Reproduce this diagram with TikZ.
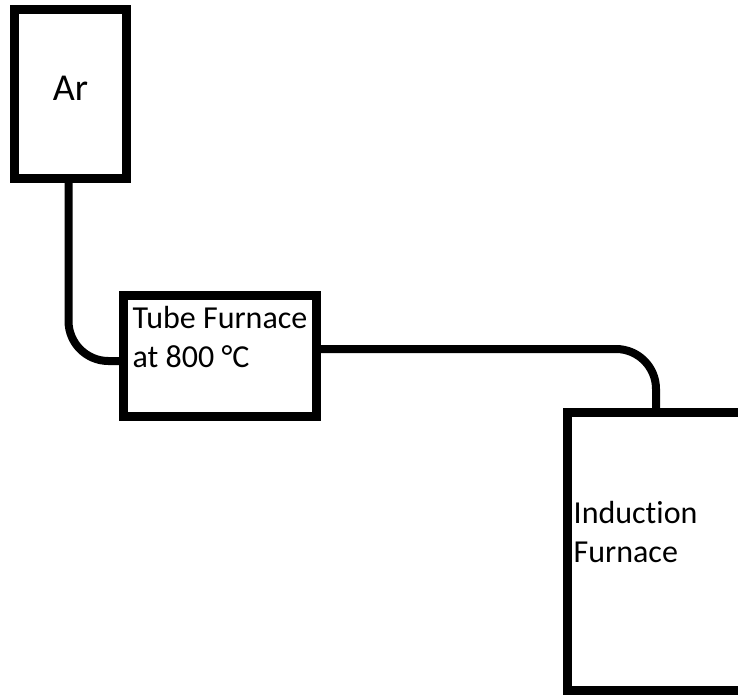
\documentclass[tikz,border=0pt]{standalone}
\usepackage{fontspec}
\setmainfont[Ligatures=NoCommon]{Carlito}
\usetikzlibrary{positioning,calc}

\begin{document}
\begin{tikzpicture}[
    x=1pt, y=-1pt,
    box/.style={draw, line width=9pt, inner sep=0pt, outer sep=0pt},
    pipe/.style={draw, line width=8pt, rounded corners=40pt},
    txt/.style={inner sep=0pt, align=left, font=\fontsize{32}{39}\selectfont}
  ]
    \clip (0,0) rectangle (738,694);
    \node[box, minimum width=112pt, minimum height=168.5pt] (ar) at (70.5,94) {};
    \node[box, minimum width=193pt, minimum height=121pt] (tube) at (220,356) {};
    \node[box, minimum width=200pt, minimum height=278pt] (ind) at (667.5,551) {};

    \node[inner sep=0pt, anchor=base, font=\fontsize{38}{44}\selectfont] (artext) at ([yshift=-6pt]ar.center) {Ar};
    \node[txt, anchor=north west] (tubetext) at ([shift={(9pt,-10.5pt)}]tube.north west) {Tube Furnace\\at 800 °C};
    \node[txt, anchor=north west] (indtext) at ([shift={(6pt,-89pt)}]ind.north west) {Induction\\Furnace};

    \draw[pipe] ([xshift=-2pt]ar.south) |- ([yshift=-5pt]tube.west);
    \draw[pipe] ([yshift=7pt]tube.east) -| ([xshift=88.5pt]ind.north west);
  \end{tikzpicture}
\end{document}
